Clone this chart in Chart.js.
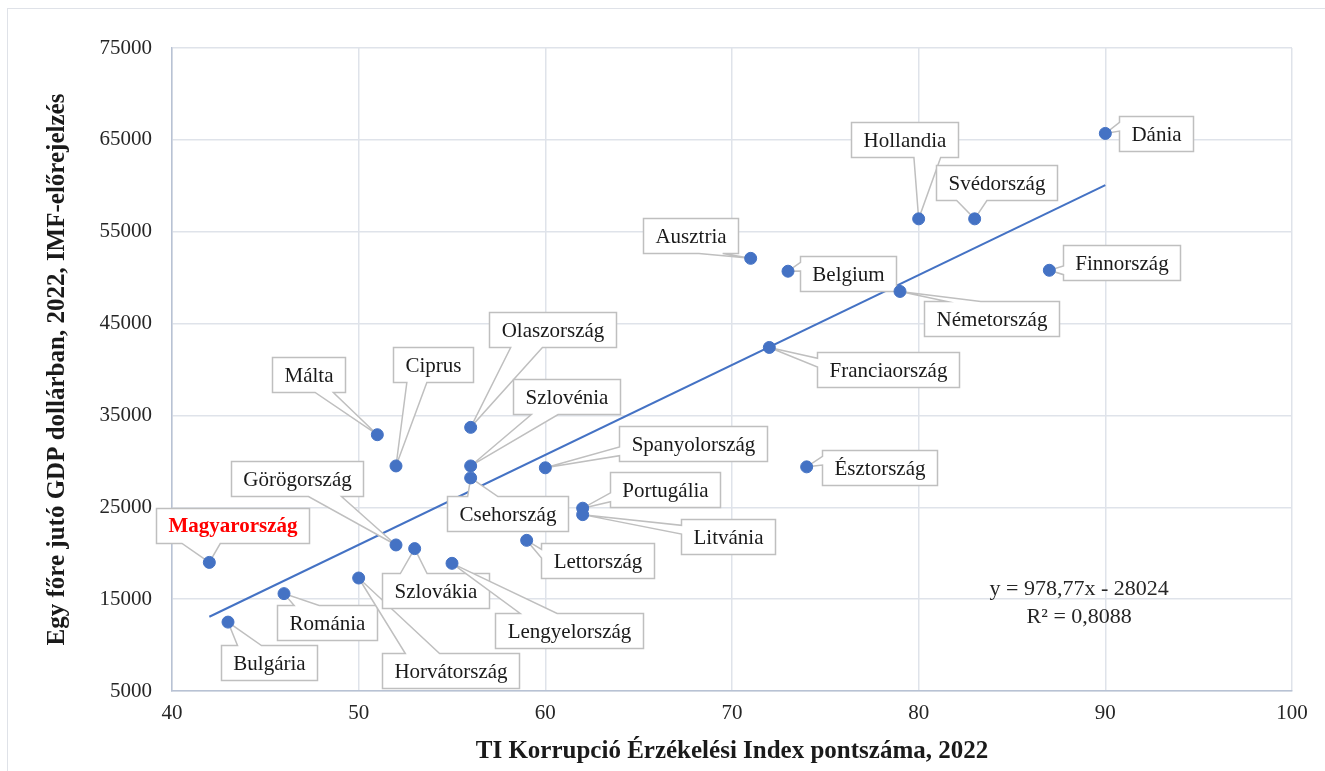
<!DOCTYPE html>
<html>
<head>
<meta charset="utf-8">
<script src="https://cdn.jsdelivr.net/npm/chart.js@4.4.0/dist/chart.umd.min.js"></script>
<style>
	html, body { margin: 0; padding: 0; background: #fff; }
	#wrap { position: relative; width: 1325px; height: 771px; overflow: hidden; }
	#frame { position: absolute; left: 7px; top: 8px; width: 1340px; height: 800px; border: 1px solid #dfe2e8; }
	canvas { position: absolute; left: 0; top: 0; }
</style>
</head>
<body>
<div id="wrap">
	<div id="frame"></div>
	<canvas id="scatterChart" width="1325" height="771"></canvas>
</div>
<script>
// data
const countries = ['Magyarország', 'Bulgária', 'Románia', 'Horvátország', 'Szlovákia', 'Lengyelország',
	'Görögország', 'Málta', 'Ciprus', 'Olaszország', 'Szlovénia', 'Csehország', 'Lettország',
	'Spanyolország', 'Portugália', 'Litvánia', 'Észtország', 'Franciaország', 'Ausztria', 'Belgium',
	'Németország', 'Hollandia', 'Svédország', 'Finnország', 'Dánia']
const cpiScores = [42, 43, 46, 50, 53, 55, 52, 51, 52, 56, 56, 56, 59, 60, 62, 62, 74, 72, 71, 73, 79, 80, 83, 87, 90]
const gdpPerCapita = [19000, 12500, 15600, 17300, 20500, 18900, 20900, 32900, 29500, 33700, 29500, 28200, 21400,
	29300, 24900, 24200, 29400, 42400, 52100, 50700, 48500, 56400, 56400, 50800, 65700]

const xTicks = { min: 40, max: 100, step: 10 }
const yTicks = { min: 5000, max: 75000, step: 10000 }

// trendline shown on the chart
const trendSlope = 978.77
const trendIntercept = -28024
const trendR2 = '0,8088'
const trendRange = [42, 90]

const highlighted = 'Magyarország'

// label box offsets from the point, in pixels (layout only)
const labelOffsets = [
	[23, -37], [41, 40], [43, 29], [92, 92], [21, 42], [117, 67],
	[-99, -66], [-69, -60], [37, -101], [82, -98], [96, -69], [37, 36], [71, 20],
	[148, -24], [82, -19], [145, 22], [73, 1], [119, 22], [-60, -23], [60, 2],
	[91, 27], [-14, -79], [22, -36], [72, -8], [51, 0]
]

const serif = '"Liberation Serif", "DejaVu Serif", serif'
const blue = '#4472c4'

// rectangular callout, same geometry as the office wedgeRectCallout
const calloutPath = (ctx, l, t, w, h, tipX, tipY) => {
	const r = l + w, b = t + h
	const hc = l + w / 2, vc = t + h / 2
	const dx = tipX - hc, dy = tipY - vc
	const dz = Math.abs(dy) - Math.abs(dx * h / w)
	const xg1 = l + (dx > 0 ? 7 : 2) * w / 12
	const xg2 = l + (dx > 0 ? 10 : 5) * w / 12
	const yg1 = t + (dy > 0 ? 7 : 2) * h / 12
	const yg2 = t + (dy > 0 ? 10 : 5) * h / 12
	ctx.beginPath()
	ctx.moveTo(l, t)
	if (dz > 0 && dy < 0) { ctx.lineTo(xg1, t); ctx.lineTo(tipX, tipY); ctx.lineTo(xg2, t) }
	ctx.lineTo(r, t)
	if (dz <= 0 && dx > 0) { ctx.lineTo(r, yg1); ctx.lineTo(tipX, tipY); ctx.lineTo(r, yg2) }
	ctx.lineTo(r, b)
	if (dz > 0 && dy > 0) { ctx.lineTo(xg2, b); ctx.lineTo(tipX, tipY); ctx.lineTo(xg1, b) }
	ctx.lineTo(l, b)
	if (dz <= 0 && dx < 0) { ctx.lineTo(l, yg2); ctx.lineTo(tipX, tipY); ctx.lineTo(l, yg1) }
	ctx.closePath()
}

const calloutLabels = {
	id: 'calloutLabels',
	afterDatasetDraw(chart, args) {
		// draw after the trendline, before the markers
		if (args.index !== 0) return
		const ctx = chart.ctx
		const points = chart.getDatasetMeta(1).data
		ctx.save()
		ctx.textAlign = 'center'
		ctx.textBaseline = 'middle'
		points.forEach((pt, i) => {
			const name = countries[i]
			const bold = name === highlighted
			ctx.font = (bold ? 'bold ' : '') + '21px ' + serif
			const w = Math.round(ctx.measureText(name).width + 24)
			const h = 35
			const cx = pt.x + labelOffsets[i][0]
			const cy = pt.y + labelOffsets[i][1]
			const l = Math.round(cx - w / 2) + 0.5
			const t = Math.round(cy - h / 2) + 0.5
			calloutPath(ctx, l, t, w, h, pt.x, pt.y)
			ctx.fillStyle = '#fff'
			ctx.fill()
			ctx.lineWidth = 1.5
			ctx.strokeStyle = '#bfbfbf'
			ctx.stroke()
			ctx.fillStyle = bold ? '#ff0000' : '#1a1a1a'
			ctx.fillText(name, l + w / 2, t + h / 2 + 1)
		})
		ctx.restore()
	}
}

const trendText = {
	id: 'trendText',
	afterDraw(chart) {
		const ctx = chart.ctx
		const x = chart.scales.x.getPixelForValue(88.6)
		const y = chart.scales.y.getPixelForValue(16100)
		ctx.save()
		ctx.font = '22px ' + serif
		ctx.fillStyle = '#262626'
		ctx.textAlign = 'center'
		ctx.textBaseline = 'middle'
		ctx.fillText(`y = 978,77x - 28024`, x, y)
		ctx.fillText(`R² = ${trendR2}`, x, y + 28)
		ctx.restore()
	}
}

document.addEventListener('DOMContentLoaded', () => {
	const points = cpiScores.map((c, i) => ({ x: c, y: gdpPerCapita[i] }))
	const trend = trendRange.map(x => ({ x: x, y: trendSlope * x + trendIntercept }))

	new Chart(document.getElementById('scatterChart'), {
		type: 'scatter',
		data: {
			datasets: [{
				label: 'Trend',
				type: 'line',
				data: trend,
				borderColor: blue,
				borderWidth: 2,
				pointRadius: 0,
				fill: false,
				order: 2
			}, {
				label: 'Országok',
				data: points,
				backgroundColor: blue,
				borderColor: blue,
				pointRadius: 6,
				pointHoverRadius: 6,
				order: 1
			}]
		},
		options: {
			responsive: false,
			animation: false,
			events: [],
			layout: { padding: { left: 0, top: 48, right: 33, bottom: 0 } },
			plugins: {
				legend: { display: false },
				tooltip: { enabled: false }
			},
			scales: {
				x: {
					type: 'linear',
					min: xTicks.min,
					max: xTicks.max,
					ticks: {
						stepSize: xTicks.step,
						padding: 10,
						color: '#262626',
						font: { family: serif, size: 21 }
					},
					grid: { color: '#dfe3ea', lineWidth: 1.5, drawTicks: false },
					border: { color: '#b8c2d4', width: 1.5 },
					title: {
						display: true,
						text: 'TI Korrupció Érzékelési Index pontszáma, 2022',
						color: '#1a1a1a',
						font: { family: serif, size: 25, weight: 'bold' },
						padding: { bottom: 4 }
					},
					afterFit: scale => { scale.height = 80 }
				},
				y: {
					type: 'linear',
					min: yTicks.min,
					max: yTicks.max,
					ticks: {
						stepSize: yTicks.step,
						padding: 20,
						color: '#262626',
						font: { family: serif, size: 21 },
						callback: v => String(v)
					},
					grid: { color: '#dfe3ea', lineWidth: 1.5, drawTicks: false },
					border: { color: '#b8c2d4', width: 1.5 },
					title: {
						display: true,
						text: 'Egy főre jutó GDP dollárban, 2022, IMF-előrejelzés',
						color: '#1a1a1a',
						font: { family: serif, size: 25, weight: 'bold' },
						padding: { top: 43 }
					},
					afterFit: scale => { scale.width = 172 }
				}
			}
		},
		plugins: [calloutLabels, trendText]
	})
})
</script>
</body>
</html>
